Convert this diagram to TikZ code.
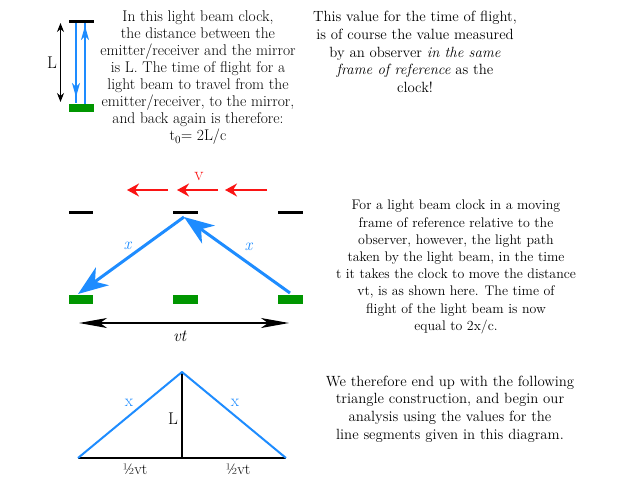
\documentclass[tikz,border=0pt]{standalone}
\usetikzlibrary{arrows.meta}
\definecolor{beam}{RGB}{30,140,255}
\definecolor{emit}{RGB}{0,150,0}
\definecolor{vred}{RGB}{250,20,20}
\begin{document}
\begin{tikzpicture}[x=1pt,y=-1pt,
  para/.style={align=center,inner sep=0pt},
  mirror/.style={line width=3pt,black},
  emitter/.style={fill=emit,draw=none},
  thinbeam/.style={beam,line width=1.5pt},
  bigbeam/.style={beam,line width=3pt,-{Stealth[length=30pt,width=22pt,inset=9pt]}},
  velo/.style={vred,line width=2.5pt,-{Stealth[length=12pt,width=13pt,inset=4pt]}},
  lbl/.style={inner sep=0pt,font=\fontsize{17}{19}\selectfont}]
\useasboundingbox (0,0) rectangle (640,480);
% ---- top clock
\draw[mirror] (69,21.5) -- (94,21.5);
\fill[emitter] (69,104) rectangle (94,112);
\draw[black,line width=1.2pt,{Stealth[length=9pt,width=7pt]}-{Stealth[length=9pt,width=7pt]}] (60.5,23) -- (60.5,102);
\node[lbl] (Ltop) at (52,63) {L};
\draw[thinbeam] (76,23) -- (76,103);
\draw[thinbeam,-{Stealth[length=14pt,width=8pt,inset=4pt]}] (76,23) -- (76,97);
\draw[thinbeam] (85,104) -- (85,23);
\draw[thinbeam,-{Stealth[length=14pt,width=8pt,inset=4pt]}] (85,104) -- (85,26);
\node[para,font=\fontsize{15.5}{17}\selectfont] (p1) at (198,78) {In this light beam clock,\\the distance between the\\emitter/receiver and the mirror\\is L. The time of flight for a\\light beam to travel from the\\emitter/receiver, to the mirror,\\and back again is therefore:\\t\textsubscript{0}= 2L/c};
\node[para,font=\fontsize{14.8}{17.7}\selectfont] (p2) at (415,52) {This value for the time of flight,\\is of course the value measured\\by an observer \textit{in the same}\\\textit{frame of reference} as the\\clock!};
% ---- moving clock
\coordinate (r1s) at (168,190); \coordinate (r1e) at (127,190);
\coordinate (r2s) at (218,190); \coordinate (r2e) at (177,190);
\coordinate (r3s) at (267,190); \coordinate (r3e) at (225,190);
\draw[velo] (r1s) -- (r1e);
\draw[velo] (r2s) -- (r2e);
\draw[velo] (r3s) -- (r3e);
\node[lbl,text=vred,font=\fontsize{19}{21}\selectfont] (v) at (199,176) {v};
\draw[mirror] (69,212.5) -- (93,212.5);
\draw[mirror] (173,212.5) -- (198,212.5);
\draw[mirror] (278,212.5) -- (303,212.5);
\fill[emitter] (69,295) rectangle (93,304);
\fill[emitter] (173,295) rectangle (198,304);
\fill[emitter] (278,295) rectangle (303,304);
\coordinate (apex) at (184,217);
\coordinate (eL) at (78,294);
\coordinate (eR) at (290,293);
\draw[bigbeam] (eR) -- (apex);
\draw[bigbeam] (apex) -- (eL);
\node[lbl,text=beam] (x1) at (128,246) {\textit{x}};
\node[lbl,text=beam] (x2) at (249,247) {\textit{x}};
\coordinate (vtL) at (79,323); \coordinate (vtR) at (289,323);
\draw[black,line width=1.2pt,{Stealth[length=28pt,width=10pt,inset=7pt]}-{Stealth[length=28pt,width=10pt,inset=7pt]}] (vtL) -- (vtR);
\node[lbl] (vt) at (180,336) {\textit{vt}};
\node[para,font=\fontsize{13.9}{17.2}\selectfont] (p3) at (456,267) {For a light beam clock in a moving\\frame of reference relative to the\\observer, however, the light path\\taken by the light beam, in the time\\t it takes the clock to move the distance\\vt, is as shown here. The time of\\flight of the light beam is now\\equal to 2x/c.};
% ---- triangle
\coordinate (T) at (182,372);
\coordinate (A) at (78,458);
\coordinate (B) at (286,458);
\coordinate (M) at (182,458);
\draw[black,line width=2pt] (A) -- (B);
\draw[black,line width=2pt] (T) -- (M);
\draw[beam,line width=2pt,line join=round] (A) -- (T) -- (B);
\node[lbl] (Lt) at (173,419) {L};
\node[lbl,text=beam] (xa) at (129,403) {x};
\node[lbl,text=beam] (xb) at (235,403) {x};
\node[lbl,font=\fontsize{15.5}{17}\selectfont] (h1) at (135,469) {½vt};
\node[lbl,font=\fontsize{15.5}{17}\selectfont] (h2) at (238,469) {½vt};
\node[para,font=\fontsize{14.8}{17.6}\selectfont] (p4) at (450,409) {We therefore end up with the following\\triangle construction, and begin our\\analysis using the values for the\\line segments given in this diagram.};
\end{tikzpicture}
\end{document}
